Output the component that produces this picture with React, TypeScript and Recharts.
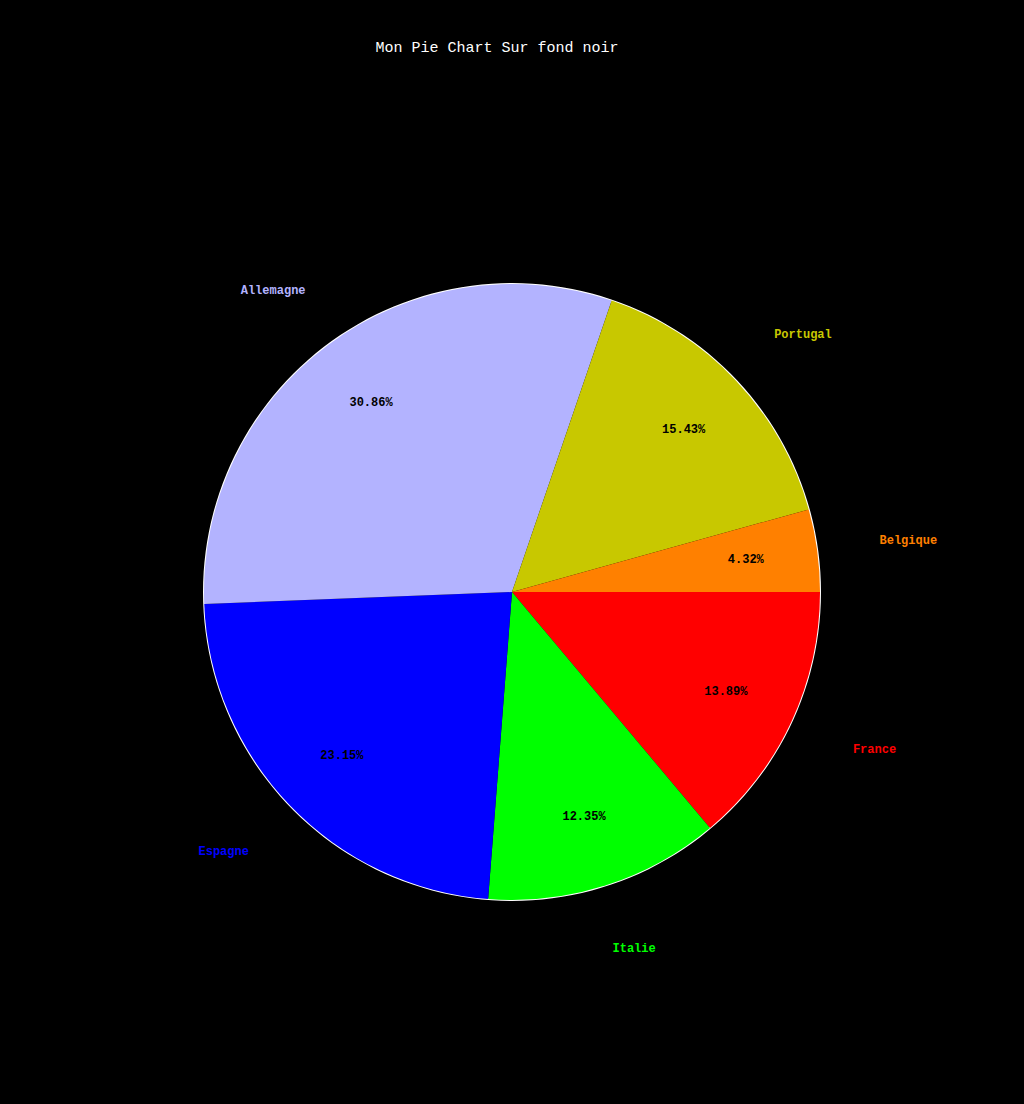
import { PieChart, Pie, Cell } from 'recharts';

const countries = ['France', 'Italie', 'Espagne', 'Allemagne', 'Portugal', 'Belgique'];
const counts = [45, 40, 75, 100, 50, 14];
const colors = ['#ff0000', '#00ff00', '#0000ff', '#b3b3ff', '#c8c800', '#ff8000'];

const data = countries.map((name, i) => ({ name, value: counts[i] }));
const ring = [{ name: 'border', value: 1 }];

const RAD = Math.PI / 180;
const CX = 512;
const CY = 592;
const R = 308;
const FONT = '"Liberation Mono", "DejaVu Sans Mono", monospace';

// percentages sit inside the slices, names on a slightly flattened ring outside
const renderLabel = (props: any) => {
  const { midAngle, percent, index } = props;
  const cosA = Math.cos(-midAngle * RAD);
  const sinA = Math.sin(-midAngle * RAD);
  const ix = CX + 236 * cosA;
  const iy = CY + 236 * sinA;
  const ox = CX + 400 * cosA;
  const oy = CY + 375 * sinA;
  return (
    <g>
      <text
        x={ix}
        y={iy}
        textAnchor='middle'
        dominantBaseline='central'
        fill='#000'
        fontSize={12}
        fontWeight='bold'
        fontFamily={FONT}
      >
        {`${(percent * 100).toFixed(2)}%`}
      </text>
      <text
        x={ox}
        y={oy}
        textAnchor='middle'
        dominantBaseline='central'
        fill={colors[index]}
        fontSize={12}
        fontWeight='bold'
        fontFamily={FONT}
      >
        {countries[index]}
      </text>
    </g>
  );
};

export default function App() {
  return (
    <div
      style={{
        position: 'absolute',
        left: 0,
        top: 0,
        width: 1024,
        height: 1104,
        background: '#000',
      }}
    >
      <PieChart width={1024} height={1104} margin={{ top: 0, right: 0, bottom: 0, left: 0 }}>
        <text
          x={497}
          y={48}
          textAnchor='middle'
          dominantBaseline='central'
          fill='#fff'
          fontSize={15}
          fontFamily={FONT}
        >
          Mon Pie Chart Sur fond noir
        </text>
        <Pie
          data={ring}
          dataKey='value'
          cx={CX}
          cy={CY}
          innerRadius={R - 1}
          outerRadius={R + 1}
          startAngle={0}
          endAngle={-360}
          fill='#fff'
          stroke='none'
          isAnimationActive={false}
        />
        <Pie
          data={data}
          dataKey='value'
          cx={CX}
          cy={CY}
          outerRadius={R}
          startAngle={0}
          endAngle={-360}
          stroke='none'
          label={renderLabel}
          labelLine={false}
          isAnimationActive={false}
        >
          {data.map((d, i) => (
            <Cell key={d.name} fill={colors[i]} />
          ))}
        </Pie>
      </PieChart>
    </div>
  );
}
